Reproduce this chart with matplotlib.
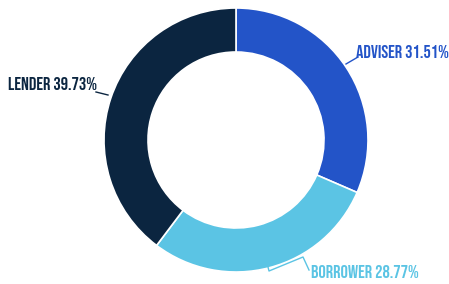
import matplotlib
matplotlib.use("Agg")
import matplotlib.pyplot as plt

labels = ["ADVISER", "BORROWER", "LENDER"]
values = [31.51, 28.77, 39.73]
colors = ["#2354C8", "#5BC4E4", "#0B2540"]

W, H = 449, 284
fig = plt.figure(figsize=(W / 100, H / 100), dpi=100)
ax = fig.add_axes([0, 0, 1, 1])

cx, cy, R = 236, H - 140, 132
ax.pie(values, colors=colors, startangle=90, counterclock=False,
       center=(cx, cy), radius=R,
       wedgeprops=dict(width=44, edgecolor="white", linewidth=1.2))
ax.set_xlim(0, W)
ax.set_ylim(0, H)
ax.set_aspect("equal")
ax.axis("off")

tk = dict(fontsize=13.2, family="Bebas Neue", va="center")

def Y(y):
    return H - y

# Adviser
ax.plot([346, 358], [Y(64), Y(57)], color=colors[0], lw=1)
ax.text(356, Y(52), f"{labels[0]} {values[0]:.2f}%", color=colors[0], ha="left", **tk)
# Borrower
ax.plot([268, 269, 303, 309], [Y(267), Y(271), Y(257), Y(270)], color=colors[1], lw=1)
ax.text(311, Y(272), f"{labels[1]} {values[1]:.2f}%", color=colors[1], ha="left", **tk)
# Lender
ax.plot([96, 108], [Y(92), Y(95)], color=colors[2], lw=1)
ax.text(97, Y(84), f"{labels[2]} {values[2]:.2f}%", color=colors[2], ha="right", **tk)

fig.savefig("out.png", dpi=100)
